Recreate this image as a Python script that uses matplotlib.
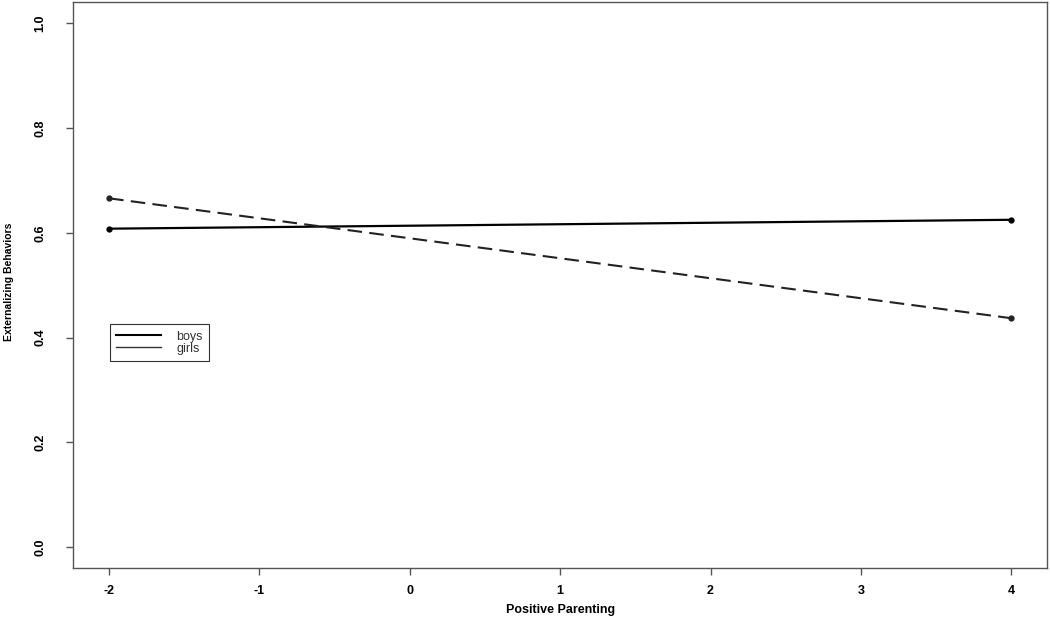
import matplotlib
matplotlib.use('Agg')
import matplotlib.pyplot as plt
from matplotlib.lines import Line2D

# values
x_vals = [-2, 4]
boys = [0.608, 0.625]
girls = [0.666, 0.437]
x_ticks = [-2, -1, 0, 1, 2, 3, 4]
y_ticks = [0.0, 0.2, 0.4, 0.6, 0.8, 1.0]
labels = ['boys', 'girls']

plt.rcParams['font.family'] = ['Liberation Sans', 'DejaVu Sans']

fig = plt.figure(figsize=(10.5, 6.19), dpi=100)
ax = fig.add_axes([0.0695, 0.0824, 0.928, 0.9136])

ax.plot(x_vals, boys, color='black', lw=1.6, marker='o', ms=3.5)
ax.plot(x_vals, girls, color='#222222', lw=1.5, dashes=(7, 3.5), marker='o', ms=3.5)

ax.set_xlim(-2.24, 4.24)
ax.set_ylim(-0.04, 1.04)
ax.set_xticks(x_ticks)
ax.set_xticklabels([str(t) for t in x_ticks], fontsize=9, fontweight='bold')
ax.set_yticks(y_ticks)
ax.set_yticklabels([f'{t:.1f}' for t in y_ticks], fontsize=9, fontweight='bold',
                   rotation=90, va='center')
ax.tick_params(direction='out', length=5, width=1, color='#555555')
ax.tick_params(axis='x', pad=7)
ax.tick_params(axis='y', pad=14)

for s in ax.spines.values():
    s.set_color('#555555')
    s.set_linewidth(1)

ax.set_xlabel('Positive Parenting', fontsize=9, fontweight='bold', labelpad=5)
# y title sits right at the left edge, as in the original
fig.text(0.0085, 0.545, 'Externalizing Behaviors', rotation=90, fontsize=7.5,
         fontweight='bold', ha='center', va='center')

# legend swatches are both drawn solid in the original
handles = [Line2D([], [], color='black', lw=1.5),
           Line2D([], [], color='#333333', lw=1.0)]
leg = ax.legend(handles, labels, loc='upper left', bbox_to_anchor=(0.038, 0.431),
                borderaxespad=0, fancybox=False, edgecolor='#333333', framealpha=1,
                fontsize=9, handlelength=3.6, handletextpad=1.2, borderpad=0.5,
                labelspacing=0.0)
leg.get_frame().set_linewidth(0.8)
for t in leg.get_texts():
    t.set_color('#333333')

fig.savefig('out.png', dpi=100)
